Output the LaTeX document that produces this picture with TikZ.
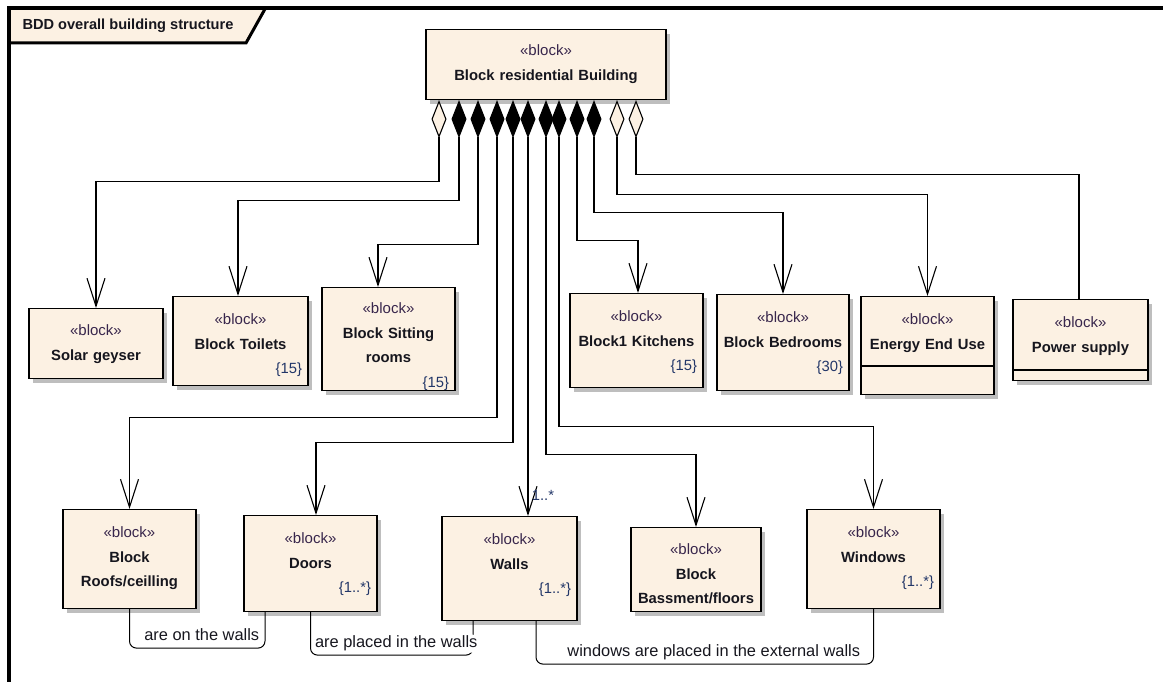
\documentclass[tikz,border=0pt]{standalone}
\usepackage{fontspec}
\setmainfont{Liberation Sans}
\usetikzlibrary{arrows.meta,shadows}

\definecolor{blockfill}{RGB}{252,241,227}
\definecolor{shadowgray}{RGB}{190,190,190}
\definecolor{stereocol}{RGB}{56,38,76}
\definecolor{multcol}{RGB}{34,54,104}
\definecolor{namecol}{RGB}{22,22,30}

\newcommand{\blkstereo}{{\fontsize{15}{24.5}\selectfont\mdseries\color{stereocol}«block»}}
\newcommand{\blkmult}[1]{\mbox{}\hfill{\mdseries\color{multcol}\{#1\}}}

\begin{document}
\begin{tikzpicture}[x=1pt,y=-1pt,
    block/.style={draw=black,line width=1.1pt,fill=blockfill,anchor=north,
      inner xsep=0pt,inner ysep=0pt,align=center,text height=28pt,
      font=\fontsize{14.8}{24.5}\selectfont\bfseries,text=namecol,
      general shadow={fill=shadowgray,shadow xshift=4pt,shadow yshift=-4pt}},
    comp/.style={draw,line width=1.1pt,
      arrows={Diamond[length=38pt,width=15pt]-Straight Barb[length=28pt,width=18pt]}},
    agg/.style={draw,line width=1.1pt,
      arrows={Diamond[length=38pt,width=15pt,fill=blockfill]-Straight Barb[length=28pt,width=18pt]}},
    aggopen/.style={draw,line width=1.1pt,
      arrows={Diamond[length=38pt,width=15pt,fill=blockfill]-}},
    note/.style={draw,line width=1pt,rounded corners=7pt},
    notelabel/.style={font=\fontsize{16.4}{18}\selectfont,text=namecol,
      inner sep=2pt,text height=11pt,text depth=3pt}]
  \useasboundingbox (0,0) rectangle (1163,682);

  % frame and its title tab
  \fill[blockfill] (11,10) -- (265,10) -- (246,43) -- (11,43) -- cycle;
  \draw[line width=3pt] (9,43) -- (246,43) -- (265,9);
  \draw[line width=4pt] (1163,8) -- (9,8) -- (9,682);
  \node[font=\fontsize{14.6}{16}\selectfont\bfseries,text=namecol] (title) at (128,26) {BDD overall building structure};

  % blocks
  \node[block,minimum width=240pt,text width=228pt,text height=26pt,text depth=44pt] (bld) at (546,29) {\blkstereo\\Block residential Building};
  \node[block,minimum width=134pt,text width=122pt,text height=27pt,text depth=43pt] (solar) at (96,308) {\blkstereo\\Solar geyser};
  \node[block,minimum width=135pt,text width=123pt,text depth=61pt] (toilets) at (240.5,296) {\blkstereo\\Block Toilets\\\blkmult{15}};
  \node[block,minimum width=133pt,text width=121pt,text height=26pt,text depth=77pt] (sitting) at (388.5,287) {\blkstereo\\Block Sitting\\rooms\\\blkmult{15}};
  \node[block,minimum width=133pt,text width=121pt,text depth=66pt] (kitchens) at (636.5,293) {\blkstereo\\Block1 Kitchens\\\blkmult{15}};
  \node[block,minimum width=132pt,text width=120pt,text depth=68pt] (bedrooms) at (783,294) {\blkstereo\\Block Bedrooms\\\blkmult{30}};
  \node[block,minimum width=133pt,text width=121pt,text depth=70pt] (energy) at (927.5,296) {\blkstereo\\Energy End Use};
  \node[block,minimum width=135pt,text width=123pt,text depth=53pt] (power) at (1080.5,299) {\blkstereo\\Power supply};
  \node[block,minimum width=133pt,text width=121pt,text depth=71pt] (roofs) at (129.5,509) {\blkstereo\\Block\\Roofs/ceilling};
  \node[block,minimum width=133pt,text width=121pt,text depth=68pt] (doors) at (310.5,515) {\blkstereo\\Doors\\\blkmult{1..*}};
  \node[block,minimum width=135pt,text width=123pt,text depth=76pt] (walls) at (509.5,516) {\blkstereo\\Walls\\\blkmult{1..*}};
  \node[block,minimum width=130pt,text width=120pt,text height=27pt,text depth=57pt] (bassment) at (696,527) {\blkstereo\\Block\\Bassment/floors};
  \node[block,minimum width=133pt,text width=121pt,text depth=71pt] (windows) at (873.5,509) {\blkstereo\\Windows\\\blkmult{1..*}};

  % compartments
  \draw[line width=1.1pt] ([yshift=-70pt]energy.north west) -- ([yshift=-70pt]energy.north east);
  \draw[line width=1.1pt] ([yshift=-71pt]power.north west) -- ([yshift=-71pt]power.north east);

  % parts of the building
  \draw[agg] ([xshift=-107pt]bld.south) -- ++(0,81) -| (solar.north);
  \draw[comp] ([xshift=-87pt]bld.south) -- ++(0,100) -| ([xshift=-2.5pt]toilets.north);
  \draw[comp] ([xshift=-68pt]bld.south) -- ++(0,144) -| ([xshift=-10.5pt]sitting.north);
  \draw[comp] ([xshift=-49pt]bld.south) -- ++(0,317) -| (roofs.north);
  \draw[comp] ([xshift=-33pt]bld.south) -- ++(0,342) -| ([xshift=5.5pt]doors.north);
  \draw[comp] ([xshift=-18pt]bld.south) -- node[pos=0.95,right,font=\fontsize{14.8}{16}\selectfont,text=multcol]{1..*} ([xshift=18.5pt]walls.north);
  \draw[comp] (bld.south) -- ++(0,354) -| (bassment.north);
  \draw[comp] ([xshift=13pt]bld.south) -- ++(0,326) -| (windows.north);
  \draw[comp] ([xshift=31pt]bld.south) -- ++(0,140) -| ([xshift=1.5pt]kitchens.north);
  \draw[comp] ([xshift=48pt]bld.south) -- ++(0,112) -| (bedrooms.north);
  \draw[agg] ([xshift=71pt]bld.south) -- ++(0,94) -| (energy.north);
  \draw[aggopen] ([xshift=90pt]bld.south) -- ++(0,74) -| ([xshift=-1.5pt]power.north);

  % notes between the parts
  \draw[note] (roofs.south) -- ++(0,39) -- node[notelabel,above=2pt,xshift=4.5pt]{are on the walls} ++(135.5,0) -- ([xshift=-45.5pt]doors.south);
  \draw[note] (doors.south) -- ++(0,43) -- node[notelabel,above=2pt,xshift=4.5pt,fill=white]{are placed in the walls} ++(162.5,0) -- ([xshift=-36.5pt]walls.south);
  \draw[note] ([xshift=26.5pt]walls.south) -- ++(0,43) -- node[notelabel,above=2pt,xshift=9pt]{windows are placed in the external walls} ++(337.5,0) -- (windows.south);
\end{tikzpicture}
\end{document}
